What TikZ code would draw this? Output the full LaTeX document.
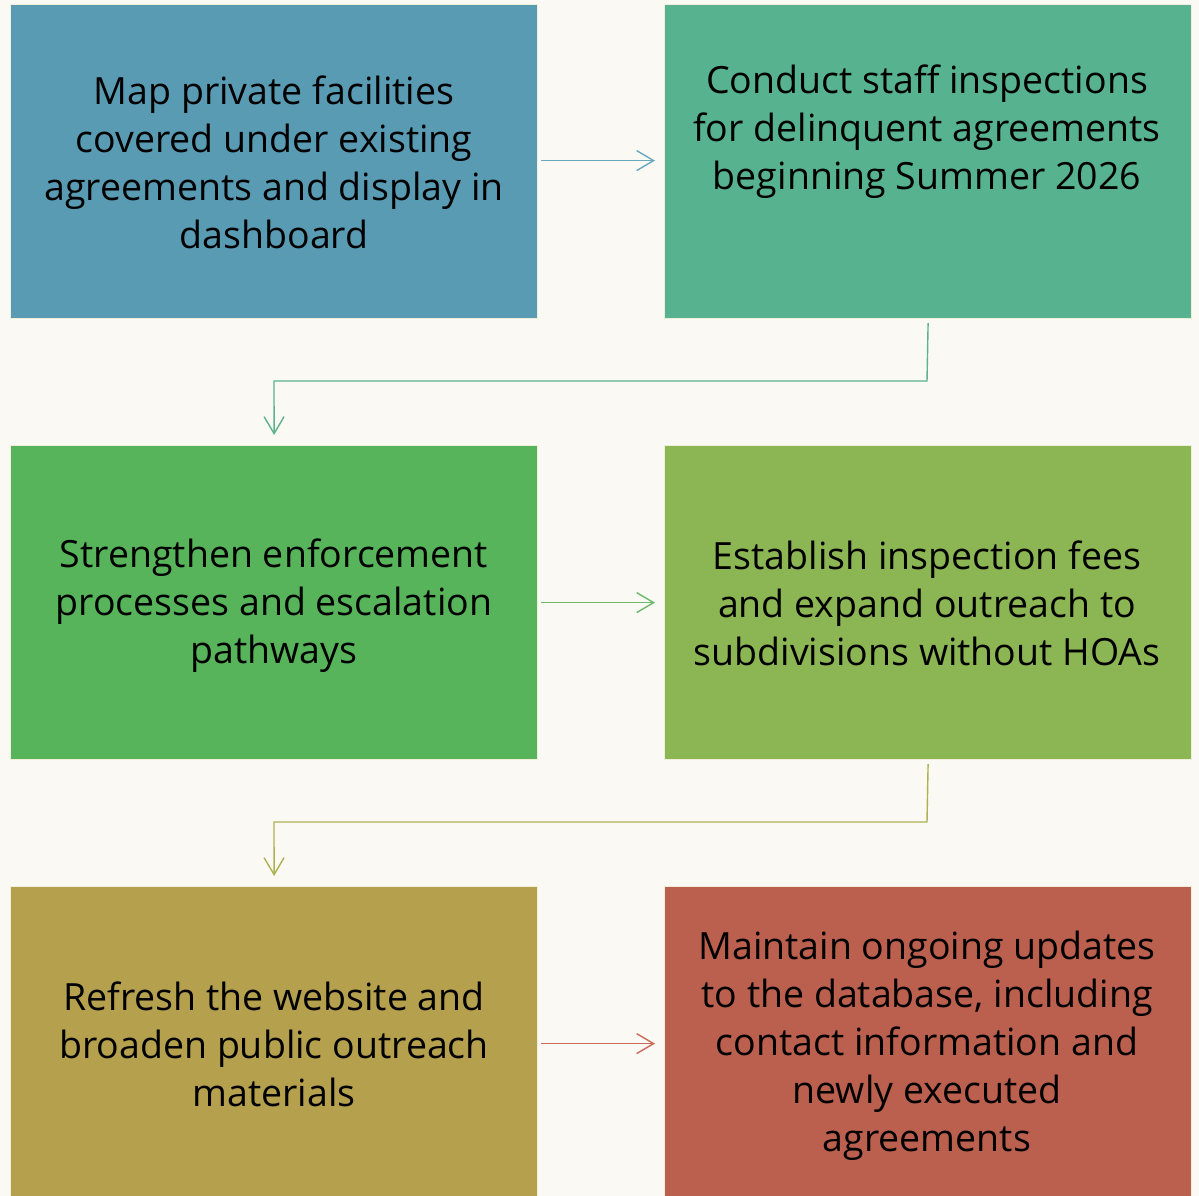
\documentclass[tikz,border=0pt]{standalone}
\usepackage{fontspec}
\setmainfont{Open Sans}
\usetikzlibrary{arrows.meta}
\definecolor{bgcol}{HTML}{FAF9F3}
\definecolor{edgecol}{HTML}{F1EFD9}
\definecolor{cA}{HTML}{5A9BB4}
\definecolor{cB}{HTML}{57B28F}
\definecolor{cC}{HTML}{57B45A}
\definecolor{cD}{HTML}{8CB553}
\definecolor{cE}{HTML}{B5A04E}
\definecolor{cF}{HTML}{BB604E}
\definecolor{aA}{HTML}{6AA8C0}
\definecolor{aB}{HTML}{5DB38E}
\definecolor{aC}{HTML}{6BBA6C}
\definecolor{aD}{HTML}{AEB152}
\definecolor{aE}{HTML}{CC6A5A}
\tikzset{
  stepbox/.style={draw=edgecol, line width=1.2pt, minimum width=527pt, minimum height=314pt,
    inner sep=0pt, anchor=north west},
  steptext/.style={align=center, font=\fontsize{37.5}{48}\selectfont, text=black},
  flow/.style={line width=1.4pt, -{Straight Barb[length=17pt,width=20pt,line width=1.4pt]}},
}
\begin{document}
\begin{tikzpicture}[x=1pt,y=-1pt]
  \useasboundingbox[fill=bgcol] (0,0) rectangle (1199,1196);
  % six step boxes in two columns
  \node[stepbox, fill=cA] (b1) at (10,4) {};
  \node[stepbox, fill=cB] (b2) at (664,4) {};
  \node[stepbox, fill=cC] (b3) at (10,445) {};
  \node[stepbox, fill=cD] (b4) at (664,445) {};
  \node[stepbox, fill=cE] (b5) at (10,886) {};
  \node[stepbox, fill=cF] (b6) at (664,886) {};
  % box texts
  \node[steptext] (t1) at (274,162) {Map private facilities\\covered under existing\\agreements and display in\\dashboard};
  \node[steptext] (t2) at (927,132) {Conduct staff inspections\\for delinquent agreements\\beginning Summer 2026};
  \node[steptext] (t3) at (274,606) {Strengthen enforcement\\processes and escalation\\pathways};
  \node[steptext] (t4) at (927,603) {Establish inspection fees\\and expand outreach to\\subdivisions without HOAs};
  \node[steptext] (t5) at (274,1044) {Refresh the website and\\broaden public outreach\\materials};
  \node[steptext] (t6) at (927,1046) {Maintain ongoing updates\\to the database, including\\contact information and\\newly executed\\agreements};
  % connectors
  \coordinate (k1) at (927,381);
  \coordinate (k2) at (274,381);
  \coordinate (k3) at (927,822);
  \coordinate (k4) at (274,822);
  \draw[flow, aA] ([xshift=3pt,yshift=1pt]b1.east) -- ([xshift=-9pt,yshift=1pt]b2.west);
  \draw[flow, aB] ([yshift=-4pt]b2.south) -- (k1) -- (k2) -- ([yshift=10pt]b3.north);
  \draw[flow, aC] ([xshift=3pt]b3.east) -- ([xshift=-9pt]b4.west);
  \draw[flow, aD] ([yshift=-4pt]b4.south) -- (k3) -- (k4) -- ([yshift=10pt]b5.north);
  \draw[flow, aE] ([xshift=3pt]b5.east) -- ([xshift=-9pt]b6.west);
\end{tikzpicture}
\end{document}
